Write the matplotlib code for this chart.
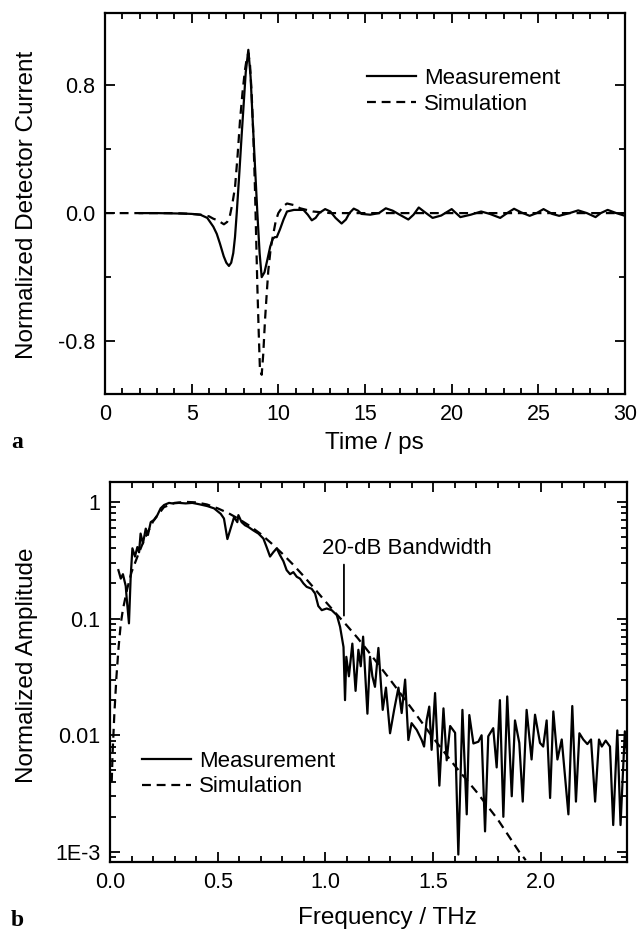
import matplotlib
matplotlib.use("Agg")
import matplotlib.pyplot as plt
from matplotlib.ticker import MultipleLocator, FixedLocator, NullFormatter, LogLocator

plt.rcParams['font.family'] = ['Liberation Sans', 'DejaVu Sans']

# ---------------- Panel a: time domain ----------------
t_meas = [2.0, 3.0, 4.0, 4.5, 5.0, 5.5, 5.9, 6.25, 6.45, 6.63, 6.85, 7.0, 7.15, 7.28, 7.4, 7.5, 7.6, 7.75, 7.88,
          8.0, 8.12, 8.27, 8.4, 8.52, 8.65, 8.79, 8.92, 9.04, 9.2, 9.37, 9.53, 9.68, 9.8, 9.91, 10.1, 10.3, 10.5,
          10.9, 11.45, 11.7, 11.93, 12.15, 12.35, 12.7, 13.0, 13.3, 13.65, 13.9, 14.1, 14.35, 14.6, 14.8, 15.3,
          15.8, 16.2, 16.6, 17.0, 17.5, 17.8, 18.1, 18.4, 18.9, 19.4, 20.0, 20.5, 21.1, 21.7, 22.2, 22.8, 23.2,
          23.6, 24.0, 24.5, 24.9, 25.3, 25.8, 26.2, 26.8, 27.3, 27.8, 28.3, 28.6, 29.0, 29.5, 30.0]
v_meas = [0.0, 0.0, -0.002, -0.003, -0.005, -0.01, -0.03, -0.085, -0.13, -0.19, -0.27, -0.31, -0.33, -0.31,
          -0.25, -0.15, 0.0, 0.25, 0.48, 0.68, 0.88, 1.02, 0.85, 0.58, 0.3, 0.0, -0.25, -0.40, -0.37, -0.29,
          -0.21, -0.16, -0.15, -0.15, -0.1, -0.04, 0.01,
          0.02, 0.02, -0.01, -0.045, -0.03, 0.0, 0.025, 0.01, -0.03, -0.065, -0.04, 0.0, 0.028, 0.015, -0.005, -0.01,
          0.0, 0.03, 0.015, -0.01, -0.04, -0.01, 0.035, 0.01, -0.03, -0.015, 0.025, -0.025, -0.01, 0.01, -0.005, -0.03, 0.0,
          0.027, 0.005, -0.017, 0.0, 0.025, -0.005, -0.017, 0.0, 0.017, 0.0, -0.025, 0.0, 0.02, 0.0, -0.017]

t_sim = [0.0, 1.0, 2.0, 3.0, 4.0, 5.0, 5.5, 6.0, 6.25, 6.5, 6.86, 7.05, 7.2, 7.35, 7.5, 7.65, 7.79, 7.93, 8.07,
         8.17, 8.27, 8.37, 8.46, 8.56, 8.65, 8.72, 8.79, 8.87, 8.94, 9.04, 9.13, 9.23, 9.32, 9.42, 9.56, 9.71,
         9.85, 10.0, 10.25, 10.5, 10.9, 11.26, 12.0, 13.0, 15.0, 20.0, 25.0, 30.0]
v_sim = [0.0, 0.0, 0.0, 0.0, 0.0, -0.005, -0.01, -0.02, -0.035, -0.045, -0.07, -0.055, -0.02, 0.06, 0.16,
         0.36, 0.58, 0.75, 0.89, 0.96, 1.0, 0.92, 0.75, 0.48, 0.16, -0.15, -0.46, -0.75, -0.98, -1.01, -0.88,
         -0.67, -0.52, -0.36, -0.22, -0.13, -0.05, 0.0, 0.04, 0.06, 0.05, 0.03, 0.01, 0.0, 0.0, 0.0, 0.0, 0.0]

# ---------------- Panel b: frequency domain ----------------
f_meas = [0.039, 0.050, 0.060, 0.073, 0.077, 0.088, 0.096, 0.104, 0.116, 0.127, 0.135, 0.142, 0.153, 0.166,
          0.176, 0.189, 0.204, 0.220, 0.235, 0.251, 0.274, 0.289, 0.320, 0.351, 0.382, 0.413, 0.452, 0.483,
          0.514, 0.529, 0.545, 0.560, 0.576, 0.591, 0.596, 0.611, 0.627, 0.642, 0.665, 0.689, 0.712, 0.727,
          0.743, 0.758, 0.774, 0.789, 0.805, 0.820, 0.836, 0.851, 0.867, 0.882, 0.898, 0.913, 0.936, 0.952,
          0.967, 0.983, 1.006, 1.029, 1.053, 1.068, 1.084, 1.091, 1.097, 1.109, 1.125, 1.140, 1.153, 1.164,
          1.175, 1.195, 1.207, 1.218, 1.230, 1.246, 1.266, 1.281, 1.300, 1.319, 1.339, 1.354, 1.370, 1.385,
          1.400, 1.424, 1.447, 1.458, 1.470, 1.482, 1.493, 1.509, 1.529, 1.548, 1.563, 1.579, 1.602, 1.617,
          1.636, 1.656, 1.668, 1.687, 1.710, 1.725, 1.741, 1.756, 1.779, 1.795, 1.810, 1.826, 1.844, 1.865,
          1.880, 1.900, 1.916, 1.934, 1.957, 1.973, 1.996, 2.011, 2.027, 2.043, 2.058, 2.077, 2.097, 2.128,
          2.146, 2.163, 2.179, 2.197, 2.216, 2.233, 2.252, 2.270, 2.283, 2.301, 2.321, 2.336, 2.355, 2.370,
          2.390, 2.400]
a_meas = [0.26, 0.22, 0.24, 0.19, 0.153, 0.091, 0.228, 0.40, 0.34, 0.41, 0.37, 0.535, 0.44, 0.59,
          0.52, 0.67, 0.70, 0.77, 0.88, 0.94, 0.98, 0.97, 0.98, 0.97, 0.98, 0.955, 0.92, 0.88,
          0.79, 0.72, 0.48, 0.59, 0.74, 0.67, 0.77, 0.67, 0.63, 0.61, 0.57, 0.535, 0.485, 0.41,
          0.34, 0.37, 0.40, 0.35, 0.31, 0.26, 0.24, 0.25, 0.228, 0.22, 0.20, 0.187, 0.18, 0.164,
          0.128, 0.118, 0.122, 0.118, 0.107, 0.085, 0.057, 0.020, 0.047, 0.032, 0.061, 0.024, 0.054, 0.039,
          0.070, 0.0153, 0.047, 0.032, 0.026, 0.056, 0.0165, 0.0256, 0.0104, 0.0165, 0.0256, 0.0155, 0.030, 0.0091,
          0.0127, 0.0111, 0.0091, 0.0080, 0.0135, 0.0176, 0.0075, 0.023, 0.0037, 0.017, 0.0061, 0.012, 0.0105, 0.00095,
          0.0165, 0.0021, 0.0149, 0.0085, 0.0088, 0.0100, 0.0015, 0.0098, 0.0115, 0.0053, 0.020, 0.0020, 0.0215, 0.0030,
          0.0134, 0.0086, 0.0027, 0.0165, 0.0062, 0.0150, 0.0086, 0.0080, 0.0134, 0.0029, 0.0160, 0.0062, 0.0092, 0.0021,
          0.0178, 0.0027, 0.0104, 0.0092, 0.0084, 0.0092, 0.0027, 0.0092, 0.0080, 0.0090, 0.0080, 0.0017, 0.0110, 0.0017,
          0.0108, 0.0070]

f_sim = [0.008, 0.012, 0.02, 0.03, 0.04, 0.05, 0.06, 0.08, 0.10, 0.13, 0.16, 0.20, 0.25, 0.30, 0.35, 0.40,
         0.45, 0.50, 0.55, 0.60, 0.65, 0.70, 0.75, 0.80, 0.85, 0.90, 0.95, 1.00, 1.05, 1.10, 1.15, 1.20, 1.30,
         1.40, 1.50, 1.60, 1.70, 1.80, 1.90, 1.93]
a_sim = [0.004, 0.007, 0.015, 0.032, 0.057, 0.09, 0.12, 0.18, 0.25, 0.35, 0.48, 0.68, 0.90, 0.98, 1.0, 0.99,
         0.95, 0.88, 0.80, 0.71, 0.62, 0.53, 0.44, 0.36, 0.29, 0.23, 0.18, 0.14, 0.11, 0.087, 0.068, 0.052, 0.030,
         0.017, 0.0095, 0.0055, 0.0033, 0.0019, 0.0010, 0.00085]

bw_freq = 1.086
bw_top, bw_bottom = 0.29, 0.106

W, H = 644, 934
fig = plt.figure(figsize=(W / 100, H / 100), dpi=100)

def box(l, r, t, b):
    return [l / W, 1 - b / H, (r - l) / W, (b - t) / H]

LW = 1.6
DASH = (4, 2.6)

# ---- Top axes ----
ax1 = fig.add_axes(box(105, 625, 13, 394))
ax1.plot(t_meas, v_meas, color='black', lw=LW, label='Measurement', solid_joinstyle='round')
ax1.plot(t_sim, v_sim, color='black', lw=LW, ls=(0, DASH), label='Simulation')
ax1.set_xlim(0, 30)
ax1.set_ylim(-1.13, 1.25)
ax1.xaxis.set_major_locator(MultipleLocator(5))
ax1.xaxis.set_minor_locator(MultipleLocator(1))
ax1.yaxis.set_major_locator(FixedLocator([-0.8, 0.0, 0.8]))
ax1.yaxis.set_minor_locator(FixedLocator([-0.4, 0.4]))
ax1.set_yticklabels(['-0.8', '0.0', '0.8'])
ax1.legend(loc='upper left', bbox_to_anchor=(0.504, 0.855), frameon=False, fontsize=16,
           handlelength=2.2, handletextpad=0.35, labelspacing=0.2, borderpad=0, borderaxespad=0)

# ---- Bottom axes ----
ax2 = fig.add_axes(box(110, 627, 482, 862))
ax2.plot(f_meas, a_meas, color='black', lw=LW, label='Measurement')
ax2.plot(f_sim, a_sim, color='black', lw=LW, ls=(0, DASH), label='Simulation')
ax2.set_yscale('log')
ax2.set_xlim(0, 2.4)
ax2.set_ylim(8.2e-4, 1.48)
ax2.xaxis.set_major_locator(MultipleLocator(0.5))
ax2.xaxis.set_minor_locator(MultipleLocator(0.1))
ax2.xaxis.set_major_formatter(matplotlib.ticker.FormatStrFormatter('%.1f'))
ax2.yaxis.set_major_locator(FixedLocator([1e-3, 1e-2, 1e-1, 1]))
ax2.yaxis.set_minor_locator(LogLocator(base=10, subs=range(2, 10)))
ax2.yaxis.set_minor_formatter(NullFormatter())
ax2.set_yticklabels(['1E-3', '0.01', '0.1', '1'])
ax2.annotate('', xy=(bw_freq, bw_bottom), xytext=(bw_freq, bw_top),
             arrowprops=dict(arrowstyle='-', color='black', lw=1.3, shrinkA=0, shrinkB=0))
ax2.text(0.984, 0.40, '20-dB Bandwidth', fontsize=16, va='center', ha='left')
ax2.legend(loc='upper left', bbox_to_anchor=(0.062, 0.292), frameon=False, fontsize=16,
           handlelength=2.2, handletextpad=0.35, labelspacing=0.2, borderpad=0, borderaxespad=0)

for ax in (ax1, ax2):
    for s in ax.spines.values():
        s.set_linewidth(1.6)
    ax.tick_params(which='both', direction='in', top=True, right=True, width=1.3, labelsize=15.5)
    ax.tick_params(which='major', length=7, pad=7)
    ax.tick_params(which='minor', length=4)

fig.text(27 / W, 1 - 205 / H, 'Normalized Detector Current', rotation=90, fontsize=17.5, ha='center', va='center')
fig.text(27 / W, 1 - 665 / H, 'Normalized Amplitude', rotation=90, fontsize=17.5, ha='center', va='center')
fig.text(374 / W, 1 - 443 / H, 'Time / ps', fontsize=17.5, ha='center', va='center')
fig.text(387 / W, 1 - 918 / H, 'Frequency / THz', fontsize=17.5, ha='center', va='center')
fig.text(11 / W, 1 - 443 / H, 'a', fontsize=17, fontweight='bold', family='Liberation Serif', ha='left', va='center')
fig.text(11 / W, 1 - 920 / H, 'b', fontsize=17, fontweight='bold', family='Liberation Serif', ha='left', va='center')

fig.savefig('out.png', dpi=100)
